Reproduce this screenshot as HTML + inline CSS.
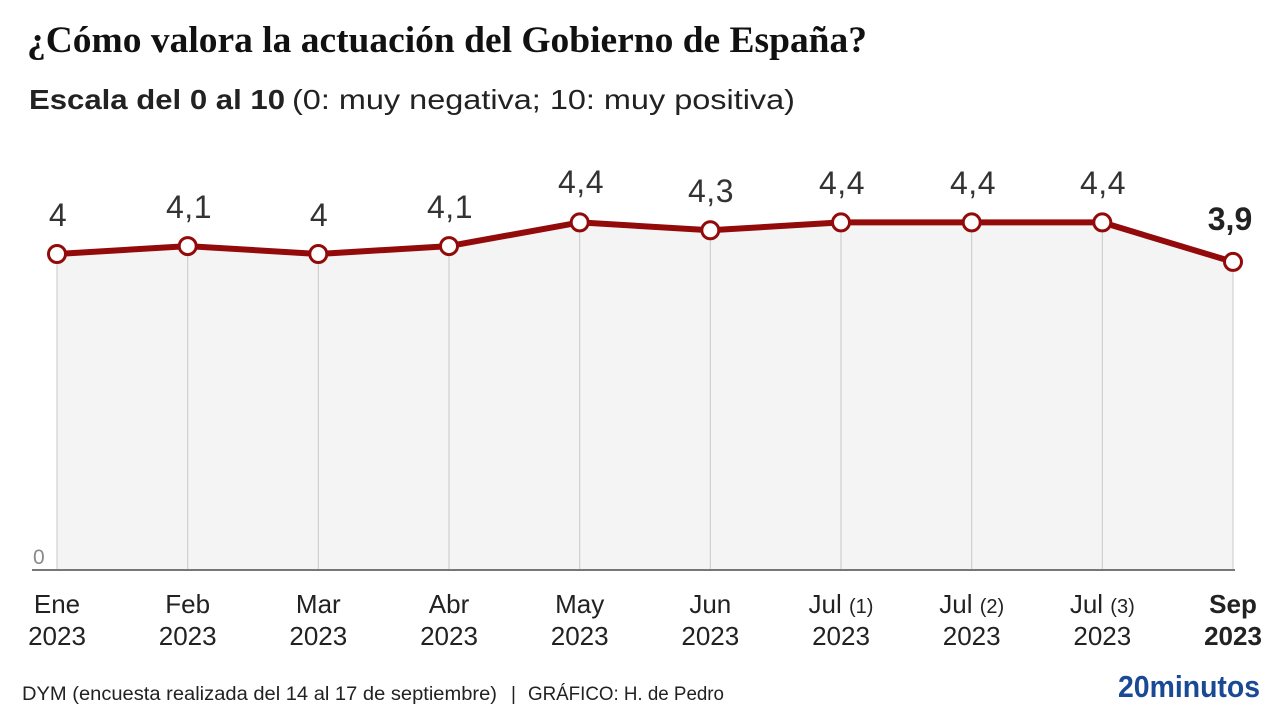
<!DOCTYPE html>
<html>
<head>
<meta charset="utf-8">
<style>
  html, body { margin: 0; padding: 0; background: #fff; }
  body { width: 1280px; height: 720px; overflow: hidden; }
  svg { display: block; }
  .sans { font-family: "Liberation Sans", "DejaVu Sans", sans-serif; }
  .serif { font-family: "Liberation Serif", "DejaVu Serif", serif; }
</style>
</head>
<body>
<svg width="1280" height="720" viewBox="0 0 1280 720" xmlns="http://www.w3.org/2000/svg">
  <rect x="0" y="0" width="1280" height="720" fill="#ffffff"/>

  <!-- Title -->
  <text class="serif" x="27" y="52" font-size="37" font-weight="bold" fill="#111" textLength="840" lengthAdjust="spacingAndGlyphs">¿Cómo valora la actuación del Gobierno de España?</text>

  <!-- Subtitle -->
  <text class="sans" x="29" y="109" font-size="28" font-weight="bold" fill="#222" textLength="256" lengthAdjust="spacingAndGlyphs">Escala del 0 al 10</text>
  <text class="sans" x="292" y="109" font-size="28" fill="#222" textLength="503" lengthAdjust="spacingAndGlyphs">(0: muy negativa; 10: muy positiva)</text>

  <!-- Area fill -->
  <polygon fill="#f4f4f4" points="57,570 57,254 187.7,246.1 318.3,254 449,246.1 579.7,222.4 710.3,230.3 841,222.4 971.7,222.4 1102.3,222.4 1233,261.9 1233,570"/>

  <!-- Vertical gridlines -->
  <g stroke="#c8c8c8" stroke-width="1">
    <line x1="57" y1="254" x2="57" y2="570"/>
    <line x1="187.7" y1="246" x2="187.7" y2="570"/>
    <line x1="318.3" y1="254" x2="318.3" y2="570"/>
    <line x1="449" y1="246" x2="449" y2="570"/>
    <line x1="579.7" y1="222" x2="579.7" y2="570"/>
    <line x1="710.3" y1="230" x2="710.3" y2="570"/>
    <line x1="841" y1="222" x2="841" y2="570"/>
    <line x1="971.7" y1="222" x2="971.7" y2="570"/>
    <line x1="1102.3" y1="222" x2="1102.3" y2="570"/>
    <line x1="1233" y1="262" x2="1233" y2="570"/>
  </g>

  <!-- Axis -->
  <line x1="32" y1="570" x2="1235" y2="570" stroke="#777" stroke-width="2"/>
  <text class="sans" x="33" y="564" font-size="21" fill="#8a8a8a">0</text>

  <!-- Line -->
  <polyline fill="none" stroke="#930a0a" stroke-width="6" stroke-linejoin="round" points="57,254 187.7,246.1 318.3,254 449,246.1 579.7,222.4 710.3,230.3 841,222.4 971.7,222.4 1102.3,222.4 1233,261.9"/>

  <!-- Markers -->
  <g fill="#ffffff" stroke="#930a0a" stroke-width="3">
    <circle cx="57" cy="254" r="8.5"/>
    <circle cx="187.7" cy="246.1" r="8.5"/>
    <circle cx="318.3" cy="254" r="8.5"/>
    <circle cx="449" cy="246.1" r="8.5"/>
    <circle cx="579.7" cy="222.4" r="8.5"/>
    <circle cx="710.3" cy="230.3" r="8.5"/>
    <circle cx="841" cy="222.4" r="8.5"/>
    <circle cx="971.7" cy="222.4" r="8.5"/>
    <circle cx="1102.3" cy="222.4" r="8.5"/>
    <circle cx="1233" cy="261.9" r="8.5"/>
  </g>

  <!-- Value labels -->
  <g class="sans" font-size="32" fill="#333" text-anchor="middle" letter-spacing="0.5">
    <text x="58" y="226">4</text>
    <text x="189" y="218">4,1</text>
    <text x="319" y="226">4</text>
    <text x="450" y="218">4,1</text>
    <text x="581" y="193">4,4</text>
    <text x="711" y="202">4,3</text>
    <text x="842" y="194">4,4</text>
    <text x="973" y="194">4,4</text>
    <text x="1103" y="194">4,4</text>
  </g>
  <text class="sans" x="1230" y="230" font-size="32" font-weight="bold" fill="#222" text-anchor="middle">3,9</text>

  <!-- X labels -->
  <g class="sans" font-size="26" fill="#222" text-anchor="middle">
    <text x="57" y="613">Ene</text><text x="57" y="645">2023</text>
    <text x="187.7" y="613">Feb</text><text x="187.7" y="645">2023</text>
    <text x="318.3" y="613">Mar</text><text x="318.3" y="645">2023</text>
    <text x="449" y="613">Abr</text><text x="449" y="645">2023</text>
    <text x="579.7" y="613">May</text><text x="579.7" y="645">2023</text>
    <text x="710.3" y="613">Jun</text><text x="710.3" y="645">2023</text>
    <text x="841" y="613">Jul <tspan font-size="20">(1)</tspan></text><text x="841" y="645">2023</text>
    <text x="971.7" y="613">Jul <tspan font-size="20">(2)</tspan></text><text x="971.7" y="645">2023</text>
    <text x="1102.3" y="613">Jul <tspan font-size="20">(3)</tspan></text><text x="1102.3" y="645">2023</text>
    <text x="1233" y="613" font-weight="bold">Sep</text><text x="1233" y="645" font-weight="bold">2023</text>
  </g>

  <!-- Footer -->
  <text class="sans" x="22" y="700" font-size="19" fill="#222" textLength="475" lengthAdjust="spacingAndGlyphs">DYM (encuesta realizada del 14 al 17 de septiembre)</text>
  <text class="sans" x="511" y="700" font-size="19" fill="#222">|</text>
  <text class="sans" x="528" y="700" font-size="19" fill="#222" textLength="196" lengthAdjust="spacingAndGlyphs">GRÁFICO: H. de Pedro</text>

  <text class="sans" x="1118" y="697" font-size="31" font-weight="bold" fill="#1a4a96" textLength="142" lengthAdjust="spacingAndGlyphs">20minutos</text>
</svg>
</body>
</html>
